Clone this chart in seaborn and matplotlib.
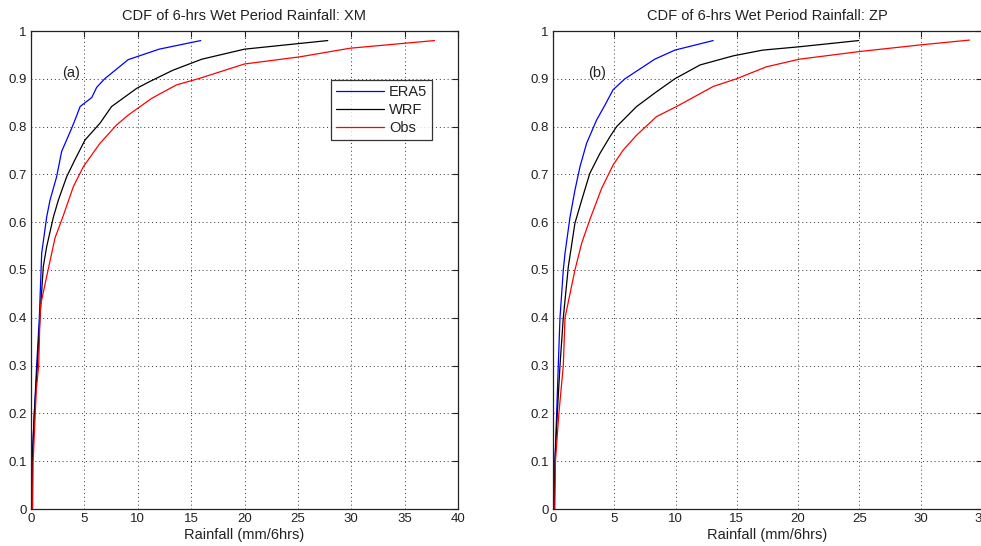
import matplotlib
matplotlib.use("Agg")
import matplotlib.pyplot as plt
import seaborn as sns
import pandas as pd

sns.set_style("white")
plt.rcParams['font.family'] = ['Liberation Sans', 'DejaVu Sans']

# ---- Panel (a): XM ----
xm_era5_x = [0.05, 0.1, 0.31, 0.53, 0.78, 1.0, 1.47, 1.78, 2.4, 2.87, 3.8, 4.3, 4.6, 5.7, 6.15, 6.9, 9.1, 12.0, 15.9]
xm_era5_y = [0.0, 0.1, 0.2, 0.3, 0.4, 0.535, 0.611, 0.646, 0.695, 0.748, 0.796, 0.824, 0.842, 0.861, 0.882, 0.90, 0.94, 0.962, 0.98]
xm_wrf_x = [0.1, 0.12, 0.31, 0.59, 0.84, 1.15, 1.47, 2.1, 2.56, 3.34, 4.1, 5.06, 6.46, 7.55, 9.9, 11.1, 13.3, 16.0, 20.0, 27.8]
xm_wrf_y = [0.0, 0.1, 0.2, 0.3, 0.4, 0.507, 0.549, 0.611, 0.646, 0.695, 0.730, 0.772, 0.807, 0.842, 0.880, 0.894, 0.918, 0.941, 0.962, 0.98]
xm_obs_x = [0.15, 0.2, 0.4, 0.5, 0.72, 0.84, 0.9, 1.6, 2.25, 3.03, 3.96, 4.9, 6.46, 8.0, 9.1, 11.3, 13.6, 15.8, 20.0, 25.2, 29.9, 37.8]
xm_obs_y = [0.0, 0.1, 0.2, 0.25, 0.3, 0.4, 0.427, 0.5, 0.567, 0.614, 0.674, 0.716, 0.765, 0.803, 0.824, 0.859, 0.887, 0.901, 0.931, 0.946, 0.964, 0.98]

# ---- Panel (b): ZP ----
zp_era5_x = [0.1, 0.16, 0.3, 0.43, 0.57, 0.84, 0.98, 1.39, 1.79, 2.2, 2.74, 3.56, 4.24, 4.9, 5.87, 8.3, 9.94, 13.07]
zp_era5_y = [0.0, 0.1, 0.2, 0.3, 0.4, 0.5, 0.535, 0.611, 0.667, 0.716, 0.765, 0.814, 0.845, 0.877, 0.90, 0.941, 0.960, 0.98]
zp_wrf_x = [0.08, 0.16, 0.35, 0.57, 0.84, 1.25, 1.79, 2.34, 3.0, 3.83, 4.65, 5.19, 6.82, 8.45, 9.94, 12.0, 14.7, 17.1, 20.1, 24.94]
zp_wrf_y = [0.0, 0.1, 0.2, 0.3, 0.4, 0.507, 0.598, 0.646, 0.702, 0.744, 0.779, 0.80, 0.842, 0.873, 0.90, 0.929, 0.948, 0.960, 0.967, 0.98]
zp_obs_x = [0.15, 0.2, 0.48, 0.84, 0.98, 1.79, 2.34, 3.0, 3.97, 4.91, 5.73, 6.82, 8.45, 10.08, 13.07, 14.97, 17.4, 20.1, 25.0, 30.0, 33.98]
zp_obs_y = [0.0, 0.1, 0.2, 0.3, 0.4, 0.5, 0.556, 0.605, 0.671, 0.720, 0.751, 0.782, 0.821, 0.842, 0.884, 0.90, 0.925, 0.941, 0.957, 0.971, 0.981]

series_names = ["ERA5", "WRF", "Obs"]
series_colors = {"ERA5": "#0000ff", "WRF": "#000000", "Obs": "#ff0000"}

titles = ["CDF of 6-hrs Wet Period Rainfall: XM", "CDF of 6-hrs Wet Period Rainfall: ZP"]
panel_labels = ["(a)", "(b)"]
xlims = [40, 35]
xlabel = "Rainfall (mm/6hrs)"
y_ticks = [0, 0.1, 0.2, 0.3, 0.4, 0.5, 0.6, 0.7, 0.8, 0.9, 1.0]
y_ticklabels = ["0", "0.1", "0.2", "0.3", "0.4", "0.5", "0.6", "0.7", "0.8", "0.9", "1"]


def make_df(xs, ys):
    rows = []
    for name, x, y in zip(series_names, xs, ys):
        for i, (a, b) in enumerate(zip(x, y)):
            rows.append({"series": name, "order": i, "x": a, "y": b})
    return pd.DataFrame(rows)


dfs = [
    make_df([xm_era5_x, xm_wrf_x, xm_obs_x], [xm_era5_y, xm_wrf_y, xm_obs_y]),
    make_df([zp_era5_x, zp_wrf_x, zp_obs_x], [zp_era5_y, zp_wrf_y, zp_obs_y]),
]

W, H = 981, 546
fig = plt.figure(figsize=(W / 100, H / 100), dpi=100)
fig.patch.set_facecolor("white")
ax_rects = [
    [31 / W, (H - 509) / H, 427 / W, 478 / H],
    [553 / W, (H - 509) / H, 429 / W, 478 / H],
]

for k in range(2):
    ax = fig.add_axes(ax_rects[k])
    ax.set_facecolor("white")
    sns.lineplot(data=dfs[k], x="x", y="y", hue="series", hue_order=series_names,
                 palette=series_colors, sort=False, estimator=None, units="order" if False else None,
                 linewidth=0.9, ax=ax, legend=(k == 0))
    ax.set_xlim(0, xlims[k])
    ax.set_ylim(0, 1)
    ax.set_xticks(list(range(0, xlims[k] + 1, 5)))
    ax.set_xticklabels([str(v) for v in range(0, xlims[k] + 1, 5)])
    ax.set_yticks(y_ticks)
    ax.set_yticklabels(y_ticklabels)
    ax.grid(True, linestyle=(0, (1, 3)), color="#333333", linewidth=0.7)
    ax.tick_params(direction="in", top=True, right=True, length=4, width=0.8,
                   labelsize=9.5, colors="#222222", pad=3)
    for s in ax.spines.values():
        s.set_color("#222222")
        s.set_linewidth(0.9)
    ax.set_xlabel(xlabel, fontsize=10.5, color="#222222", labelpad=2)
    ax.set_ylabel("")
    ax.set_title(titles[k], fontsize=10.5, color="#222222", pad=8)
    ax.text(2.9, 0.913, panel_labels[k], fontsize=10.5, color="#222222",
            ha="left", va="center")
    if k == 0:
        leg = ax.legend(loc="upper left", bbox_to_anchor=(0.703, 0.897), frameon=True,
                        fancybox=False, edgecolor="black", fontsize=10.5,
                        handlelength=3.3, handletextpad=0.3, borderpad=0.35,
                        labelspacing=0.25, borderaxespad=0)
        leg.get_frame().set_linewidth(0.9)
        for t in leg.get_texts():
            t.set_color("#222222")

fig.savefig("out.png", dpi=100, facecolor="white")
